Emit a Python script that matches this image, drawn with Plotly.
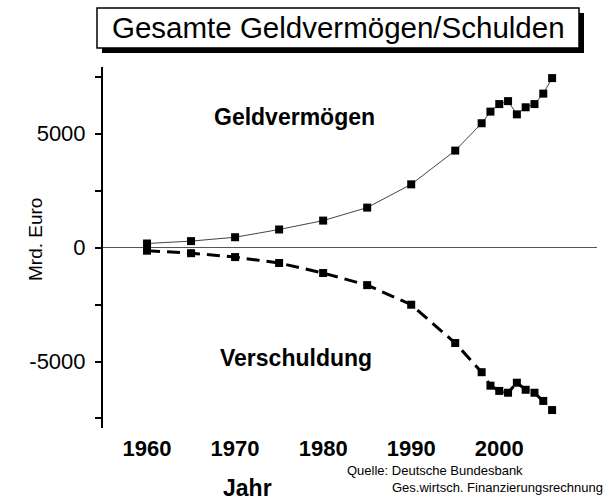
import plotly.graph_objects as go

years = [1960, 1965, 1970, 1975, 1980, 1985, 1990, 1995, 1998, 1999, 2000, 2001, 2002, 2003, 2004, 2005, 2006]
geldvermoegen = [175, 280, 450, 790, 1180, 1750, 2770, 4250, 5450, 5960, 6290, 6420, 5840, 6150, 6290, 6750, 7430]
verschuldung = [-140, -250, -420, -680, -1120, -1650, -2510, -4190, -5470, -6060, -6290, -6370, -5930, -6240, -6370, -6730, -7130]

x_ticks = [1960, 1970, 1980, 1990, 2000]
x_ticktext = ["1960", "1970", "1980", "1990", "2000"]
y_ticks = [-7500, -5000, -2500, 0, 2500, 5000, 7500]
y_ticktext = ["", "-5000", "", "0", "", "5000", ""]

W, H = 614, 501
L, R, T, B = 103, 17, 67, 73
PW, PH = W - L - R, H - T - B


def px(x):
    return (x - L) / PW


def py(y):
    return (H - B - y) / PH


FONT = "Arial, Liberation Sans, sans-serif"
NARROW = "Liberation Sans Narrow, Arial Narrow, " + FONT

fig = go.Figure()
fig.add_trace(go.Scatter(
    x=years, y=geldvermoegen, mode="lines+markers", name="Geldvermögen",
    line=dict(color="#444444", width=1),
    marker=dict(symbol="square", size=8, color="black"),
    showlegend=False,
))
fig.add_trace(go.Scatter(
    x=years, y=verschuldung, mode="lines+markers", name="Verschuldung",
    line=dict(color="black", width=3, dash="13px,7px"),
    marker=dict(symbol="square", size=8, color="black"),
    showlegend=False,
))

fig.update_layout(
    width=W, height=H,
    margin=dict(l=L, r=R, t=T, b=B),
    paper_bgcolor="white", plot_bgcolor="white",
    font=dict(family=FONT, color="black"),
    xaxis=dict(
        range=[1955.0, 2011.1], showgrid=False, zeroline=False, showline=False,
        ticks="", tickvals=x_ticks, ticktext=x_ticktext,
        tickfont=dict(family=FONT, size=22, color="black", weight="bold"),
        ticklabelstandoff=5,
    ),
    yaxis=dict(
        range=[-7917, 7917], showgrid=False, zeroline=True, zerolinecolor="#555555",
        zerolinewidth=1, showline=True, linecolor="black", linewidth=2,
        ticks="outside", ticklen=6, tickwidth=1.5, tickcolor="black",
        tickvals=y_ticks, ticktext=y_ticktext,
        tickfont=dict(family=FONT, size=22, color="black"),
        ticklabelstandoff=5,
    ),
    shapes=[
        dict(type="rect", xref="paper", yref="paper",
             x0=px(102), x1=px(584), y0=py(53), y1=py(13),
             fillcolor="black", line=dict(width=0)),
        dict(type="rect", xref="paper", yref="paper",
             x0=px(97), x1=px(579), y0=py(48), y1=py(8),
             fillcolor="white", line=dict(color="black", width=1.5)),
    ],
    annotations=[
        dict(text="Gesamte Geldvermögen/Schulden", xref="paper", yref="paper",
             x=px(338), y=py(28), xanchor="center", yanchor="middle", showarrow=False,
             font=dict(family=FONT, size=29.5, color="black")),
        dict(text="Geldvermögen", x=1976.7, y=5724, xanchor="center", yanchor="middle",
             showarrow=False, font=dict(family=FONT, size=23, color="black", weight="bold")),
        dict(text="Verschuldung", x=1976.9, y=-4847, xanchor="center", yanchor="middle",
             showarrow=False, font=dict(family=FONT, size=23, color="black", weight="bold")),
        dict(text="Mrd. Euro", xref="paper", yref="paper", x=px(35), y=py(240),
             xanchor="center", yanchor="middle", textangle=-90, showarrow=False,
             font=dict(family=FONT, size=19, color="black")),
        dict(text="Jahr", xref="paper", yref="paper", x=px(247.5), y=py(488),
             xanchor="center", yanchor="middle", showarrow=False,
             font=dict(family=FONT, size=23, color="black", weight="bold")),
        dict(text="Quelle: Deutsche Bundesbank", xref="paper", yref="paper", x=px(345), y=py(470),
             xanchor="left", yanchor="middle", showarrow=False,
             font=dict(family=NARROW, size=13, color="black")),
        dict(text="Ges.wirtsch. Finanzierungsrechnung", xref="paper", yref="paper", x=px(390), y=py(487),
             xanchor="left", yanchor="middle", showarrow=False,
             font=dict(family=NARROW, size=13, color="black")),
    ],
)

fig.write_html(
    "out.html",
    config={"displayModeBar": False},
    post_script="document.body.style.margin='0';document.body.style.overflow='hidden';",
)
